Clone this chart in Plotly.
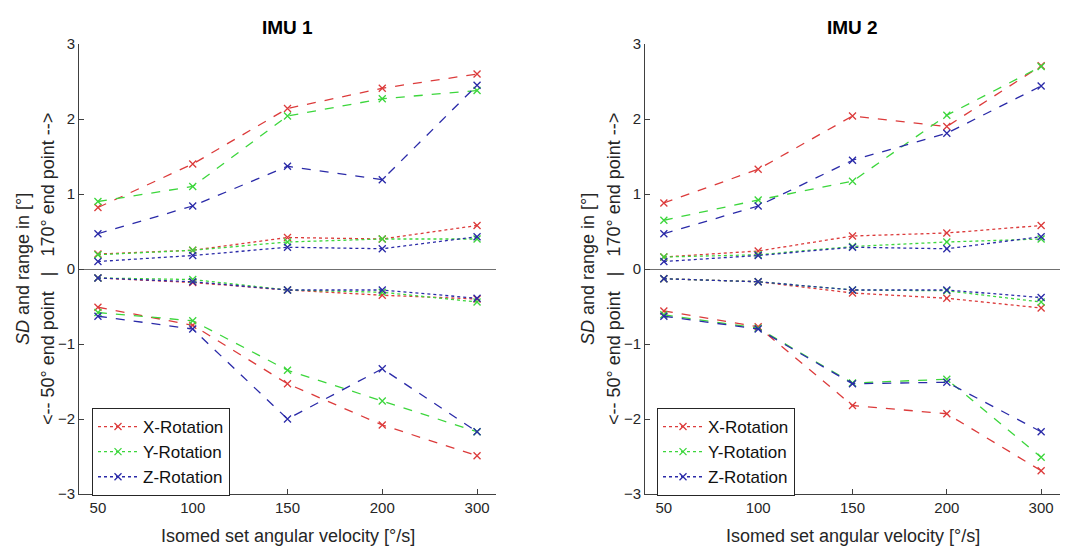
import plotly.graph_objects as go

categories = ["50", "100", "150", "200", "300"]
series_names = ["X-Rotation", "Y-Rotation", "Z-Rotation"]

# IMU 1
imu1_range_170 = {
    "X-Rotation": [0.82, 1.40, 2.14, 2.41, 2.60],
    "Y-Rotation": [0.90, 1.10, 2.04, 2.27, 2.38],
    "Z-Rotation": [0.47, 0.84, 1.37, 1.19, 2.45],
}
imu1_sd_170 = {
    "X-Rotation": [0.20, 0.25, 0.42, 0.40, 0.58],
    "Y-Rotation": [0.19, 0.25, 0.36, 0.40, 0.40],
    "Z-Rotation": [0.10, 0.18, 0.29, 0.27, 0.43],
}
imu1_sd_50 = {
    "X-Rotation": [-0.12, -0.18, -0.28, -0.35, -0.40],
    "Y-Rotation": [-0.12, -0.14, -0.28, -0.31, -0.44],
    "Z-Rotation": [-0.12, -0.17, -0.28, -0.28, -0.39],
}
imu1_range_50 = {
    "X-Rotation": [-0.51, -0.75, -1.53, -2.08, -2.49],
    "Y-Rotation": [-0.58, -0.69, -1.35, -1.76, -2.17],
    "Z-Rotation": [-0.63, -0.80, -2.00, -1.33, -2.17],
}

# IMU 2
imu2_range_170 = {
    "X-Rotation": [0.88, 1.33, 2.04, 1.90, 2.71],
    "Y-Rotation": [0.65, 0.92, 1.17, 2.05, 2.70],
    "Z-Rotation": [0.47, 0.84, 1.45, 1.81, 2.44],
}
imu2_sd_170 = {
    "X-Rotation": [0.16, 0.24, 0.44, 0.48, 0.58],
    "Y-Rotation": [0.16, 0.19, 0.30, 0.36, 0.40],
    "Z-Rotation": [0.10, 0.18, 0.29, 0.27, 0.43],
}
imu2_sd_50 = {
    "X-Rotation": [-0.13, -0.17, -0.32, -0.39, -0.52],
    "Y-Rotation": [-0.13, -0.17, -0.28, -0.29, -0.44],
    "Z-Rotation": [-0.13, -0.17, -0.28, -0.28, -0.38],
}
imu2_range_50 = {
    "X-Rotation": [-0.56, -0.77, -1.82, -1.93, -2.69],
    "Y-Rotation": [-0.61, -0.79, -1.52, -1.47, -2.51],
    "Z-Rotation": [-0.63, -0.80, -1.53, -1.51, -2.17],
}

y_ticks = [-3, -2, -1, 0, 1, 2, 3]
colors = {"X-Rotation": "#dc3b3b", "Y-Rotation": "#3cd63c", "Z-Rotation": "#2a2aa8"}

# page body has an 8px margin: figure is sized to fill the rest of the window
OFF = 8
W, H = 1070 - OFF, 549 - OFF
FONT = "Liberation Sans, Arial, sans-serif"
TXT = "#262626"


def px(x):
    return (x - OFF) / W


def py(y):
    return 1 - (y - OFF) / H


fig = go.Figure()


def add_panel(xa, ya, legend_id, sd170, sd50, rng170, rng50):
    for name in series_names:
        c = colors[name]
        marker = dict(symbol="x-thin", size=7, line=dict(color=c, width=1.3), color=c)
        for i, (data, dash) in enumerate([(sd170, "dot"), (sd50, "dot"),
                                          (rng170, "dash"), (rng50, "dash")]):
            fig.add_trace(go.Scatter(
                x=categories, y=data[name], mode="lines+markers",
                line=dict(color=c, width=1.3, dash=dash),
                marker=marker, name=name, legendgroup=legend_id + name,
                showlegend=(i == 0), legend=legend_id,
                xaxis=xa, yaxis=ya,
            ))


add_panel("x", "y", "legend", imu1_sd_170, imu1_sd_50, imu1_range_170, imu1_range_50)
add_panel("x2", "y2", "legend2", imu2_sd_170, imu2_sd_50, imu2_range_170, imu2_range_50)

yd = [py(494), py(44)]
dom1 = [px(79), px(496)]
dom2 = [px(645), px(1060)]

xcommon = dict(type="category", range=[-0.2, 4.2], showline=True, linecolor="#404040",
               linewidth=1, ticks="inside", ticklen=5, tickcolor="#404040",
               showgrid=False, zeroline=False, mirror=False, automargin=False,
               tickfont=dict(family=FONT, size=15, color=TXT))
ycommon = dict(range=[-3, 3], tickvals=y_ticks, showline=True, linecolor="#404040",
               linewidth=1, ticks="inside", ticklen=5, tickcolor="#404040",
               showgrid=False, zeroline=True, zerolinecolor="#707070", zerolinewidth=1,
               mirror=False, automargin=False, tickfont=dict(family=FONT, size=15, color=TXT))

legend_common = dict(font=dict(family=FONT, size=17, color="#111111"),
                     bordercolor="#262626", borderwidth=1, bgcolor="white",
                     xanchor="left", yanchor="top", tracegroupgap=0,
                     traceorder="grouped", itemwidth=40)

fig.update_layout(
    template="none",
    width=W, height=H,
    margin=dict(l=0, r=0, t=0, b=0, pad=0, autoexpand=False),
    paper_bgcolor="white", plot_bgcolor="white",
    xaxis=dict(domain=dom1, anchor="y", **xcommon),
    yaxis=dict(domain=yd, anchor="x", **ycommon),
    xaxis2=dict(domain=dom2, anchor="y2", **xcommon),
    yaxis2=dict(domain=yd, anchor="x2", **ycommon),
    legend=dict(x=px(92), y=py(408), **legend_common),
    legend2=dict(x=px(657), y=py(408), **legend_common),
)

annots = []
for dom, title, lx1, lx2 in [(dom1, "IMU 1", 23, 48), (dom2, "IMU 2", 588, 614)]:
    cx = (dom[0] + dom[1]) / 2
    annots.append(dict(text="<b>" + title + "</b>", x=cx, y=py(27), xref="paper", yref="paper",
                       showarrow=False, font=dict(family=FONT, size=19, color="black"),
                       xanchor="center", yanchor="middle"))
    annots.append(dict(text="Isomed set angular velocity [°/s]", x=cx, y=py(536),
                       xref="paper", yref="paper", showarrow=False,
                       font=dict(family=FONT, size=18, color=TXT),
                       xanchor="center", yanchor="middle"))
    annots.append(dict(text="<i>SD</i> and range in [°]", x=px(lx1), y=py(269),
                       xref="paper", yref="paper", showarrow=False, textangle=-90,
                       font=dict(family=FONT, size=18, color=TXT),
                       xanchor="center", yanchor="middle"))
    annots.append(dict(text="&lt;-- 50° end point   |   170° end point --&gt;", x=px(lx2), y=py(269),
                       xref="paper", yref="paper", showarrow=False, textangle=-90,
                       font=dict(family=FONT, size=18, color=TXT),
                       xanchor="center", yanchor="middle"))
fig.update_layout(annotations=annots)

fig.write_html("out.html")
